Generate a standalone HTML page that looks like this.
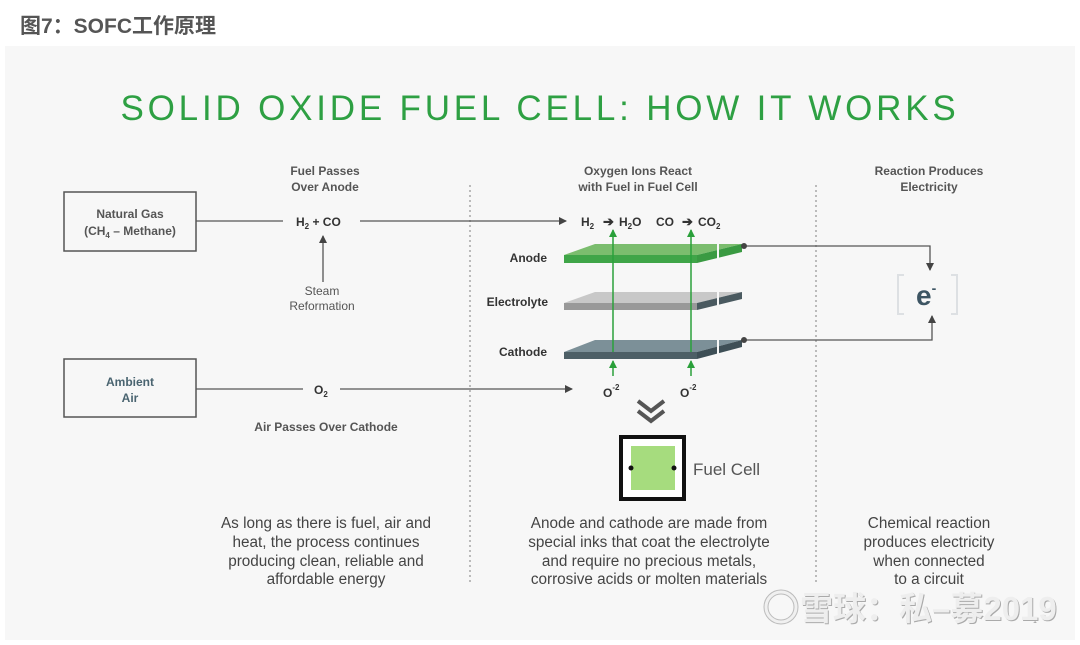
<!DOCTYPE html>
<html><head><meta charset="utf-8"><style>
body{margin:0;width:1080px;height:640px;background:#fff;overflow:hidden;font-family:"Liberation Sans",Arial,sans-serif;}
</style></head><body>
<svg width="1080" height="640" xmlns="http://www.w3.org/2000/svg" font-family="Liberation Sans, Arial, sans-serif">
<defs>
<marker id="ah" markerWidth="8" markerHeight="8" refX="7" refY="4" orient="auto" markerUnits="userSpaceOnUse"><path d="M0,0 L8,4 L0,8 z" fill="#444"/></marker>
<marker id="gh" markerWidth="8" markerHeight="8" refX="7" refY="4" orient="auto" markerUnits="userSpaceOnUse"><path d="M0,0 L8,4 L0,8 z" fill="#2aa03a"/></marker>
</defs>
<text x="20" y="33" font-size="21" font-weight="bold" fill="#555" font-family="Liberation Sans, Noto Sans CJK SC, sans-serif">图7：SOFC工作原理</text>
<rect x="5" y="46" width="1070" height="594" fill="#f7f7f7"/>
<text x="540" y="120" text-anchor="middle" font-size="35" fill="#2ea043" letter-spacing="3.8">SOLID OXIDE FUEL CELL: HOW IT WORKS</text>
<g font-size="12" font-weight="bold" fill="#555" text-anchor="middle">
<text x="325" y="175">Fuel Passes</text><text x="325" y="191">Over Anode</text>
<text x="638" y="175">Oxygen Ions React</text><text x="638" y="191">with Fuel in Fuel Cell</text>
<text x="929" y="175">Reaction Produces</text><text x="929" y="191">Electricity</text>
</g>
<g stroke="#bbb" stroke-width="2" stroke-dasharray="2,3">
<line x1="470" y1="185" x2="470" y2="582"/><line x1="816" y1="185" x2="816" y2="582"/>
</g>
<rect x="64" y="192" width="132" height="59" fill="none" stroke="#555" stroke-width="1.5"/>
<rect x="64" y="359" width="132" height="58" fill="none" stroke="#555" stroke-width="1.5"/>
<text x="130" y="218" text-anchor="middle" font-size="12" font-weight="bold" fill="#555">Natural Gas</text>
<text x="130" y="235" text-anchor="middle" font-size="12" font-weight="bold" fill="#555">(CH<tspan font-size="8" dy="3">4</tspan><tspan dy="-3"> – Methane)</tspan></text>
<text x="130" y="386" text-anchor="middle" font-size="12" font-weight="bold" fill="#4a6470">Ambient</text>
<text x="130" y="402" text-anchor="middle" font-size="12" font-weight="bold" fill="#4a6470">Air</text>
<g stroke="#555" stroke-width="1.3" fill="none">
<line x1="196" y1="221" x2="283" y2="221"/>
<line x1="360" y1="221" x2="566" y2="221" marker-end="url(#ah)"/>
<line x1="323" y1="282" x2="323" y2="236" marker-end="url(#ah)"/>
<line x1="196" y1="389" x2="303" y2="389"/>
<line x1="340" y1="389" x2="572" y2="389" marker-end="url(#ah)"/>
<polyline points="744,246 930,246 930,270" marker-end="url(#ah)"/>
<polyline points="744,340 932,340 932,316" marker-end="url(#ah)"/>
</g>
<g font-size="12" font-weight="bold" fill="#333">
<text x="296" y="226">H<tspan font-size="8" dy="3">2</tspan><tspan dy="-3"> + CO</tspan></text>
<text x="314" y="394">O<tspan font-size="8" dy="3">2</tspan></text>
<text x="581" y="226">H<tspan font-size="8" dy="3">2</tspan></text>
<text x="603" y="226" font-size="13">➔</text>
<text x="619" y="226">H<tspan font-size="8" dy="3">2</tspan><tspan dy="-3">O</tspan></text>
<text x="656" y="226">CO</text>
<text x="682" y="226" font-size="13">➔</text>
<text x="698" y="226">CO<tspan font-size="8" dy="3">2</tspan></text>
<text x="603" y="397">O<tspan font-size="8" dy="-7">-2</tspan></text>
<text x="680" y="397">O<tspan font-size="8" dy="-7">-2</tspan></text>
<text x="547" y="262" text-anchor="end">Anode</text>
<text x="548" y="306" text-anchor="end">Electrolyte</text>
<text x="547" y="356" text-anchor="end">Cathode</text>
</g>
<g font-size="12" fill="#555" text-anchor="middle">
<text x="322" y="295">Steam</text><text x="322" y="310">Reformation</text>
</g>
<text x="326" y="431" text-anchor="middle" font-size="12" font-weight="bold" fill="#555">Air Passes Over Cathode</text>
<g>
<polygon points="564,255 697,255 742,244 595,244" fill="#7bbd6e"/>
<rect x="564" y="255" width="133" height="8" fill="#3fa548"/>
<polygon points="697,255 742,244 742,252 697,263" fill="#3a9a42"/>
<circle cx="744" cy="246" r="3" fill="#444"/>
<polygon points="564,303 697,303 742,292 595,292" fill="#c8c8c8"/>
<rect x="564" y="303" width="133" height="7" fill="#999"/>
<polygon points="697,303 742,292 742,299 697,310" fill="#4a5a60"/>
<polygon points="564,352 697,352 742,340 595,340" fill="#7c9098"/>
<rect x="564" y="352" width="133" height="7" fill="#4d5f66"/>
<polygon points="697,352 742,340 742,347 697,359" fill="#3e4f56"/>
<circle cx="744" cy="340" r="3" fill="#444"/>
<g stroke="#f7f7f7" stroke-width="2"><line x1="718" y1="242" x2="718" y2="262"/><line x1="718" y1="290" x2="718" y2="310"/><line x1="718" y1="338" x2="718" y2="358"/></g>
</g>
<g stroke="#2aa03a" stroke-width="1.5">
<line x1="613" y1="352" x2="613" y2="230" marker-end="url(#gh)"/>
<line x1="691" y1="352" x2="691" y2="230" marker-end="url(#gh)"/>
<line x1="613" y1="376" x2="613" y2="361" marker-end="url(#gh)"/>
<line x1="691" y1="376" x2="691" y2="361" marker-end="url(#gh)"/>
</g>
<g stroke="#dde0e3" stroke-width="2" fill="none">
<polyline points="904,275 898,275 898,314 904,314"/><polyline points="951,275 957,275 957,314 951,314"/>
</g>
<text x="916" y="305" font-size="28" font-weight="bold" fill="#3d5563">e<tspan font-size="14" dy="-12">-</tspan></text>
<g fill="none" stroke="#555" stroke-width="4">
<polyline points="638,401 651,411 664,401"/><polyline points="638,411 651,421 664,411"/>
</g>
<rect x="621" y="437" width="63" height="62" fill="#fff" stroke="#111" stroke-width="4"/>
<rect x="631" y="446" width="44" height="44" fill="#a6dc7e"/>
<circle cx="631" cy="468" r="2.5" fill="#111"/><circle cx="674" cy="468" r="2.5" fill="#111"/>
<text x="693" y="475" font-size="17" fill="#555">Fuel Cell</text>
<g font-size="15.3" fill="#444" text-anchor="middle">
<text x="326" y="528">As long as there is fuel, air and</text>
<text x="326" y="547">heat, the process continues</text>
<text x="326" y="566">producing clean, reliable and</text>
<text x="326" y="584">affordable energy</text>
<text x="649" y="528">Anode and cathode are made from</text>
<text x="649" y="547">special inks that coat the electrolyte</text>
<text x="649" y="566">and require no precious metals,</text>
<text x="649" y="584">corrosive acids or molten materials</text>
<text x="929" y="528">Chemical reaction</text>
<text x="929" y="547">produces electricity</text>
<text x="929" y="566">when connected</text>
<text x="929" y="584">to a circuit</text>
</g>
<text x="1033" y="623" font-size="7" fill="#888">1</text>
<g font-family="Liberation Sans, Noto Sans CJK SC, sans-serif" font-size="33" font-weight="bold">
<text x="800" y="620" fill="#aaa" transform="translate(1,1)">雪球：私–募2019</text>
<text x="800" y="620" fill="#eee">雪球：私–募2019</text>
</g>
<circle cx="781" cy="607" r="15" fill="none" stroke="#bbb" stroke-width="5"/>
<circle cx="781" cy="607" r="15" fill="none" stroke="#f0f0f0" stroke-width="3"/>
</svg>
</body></html>
